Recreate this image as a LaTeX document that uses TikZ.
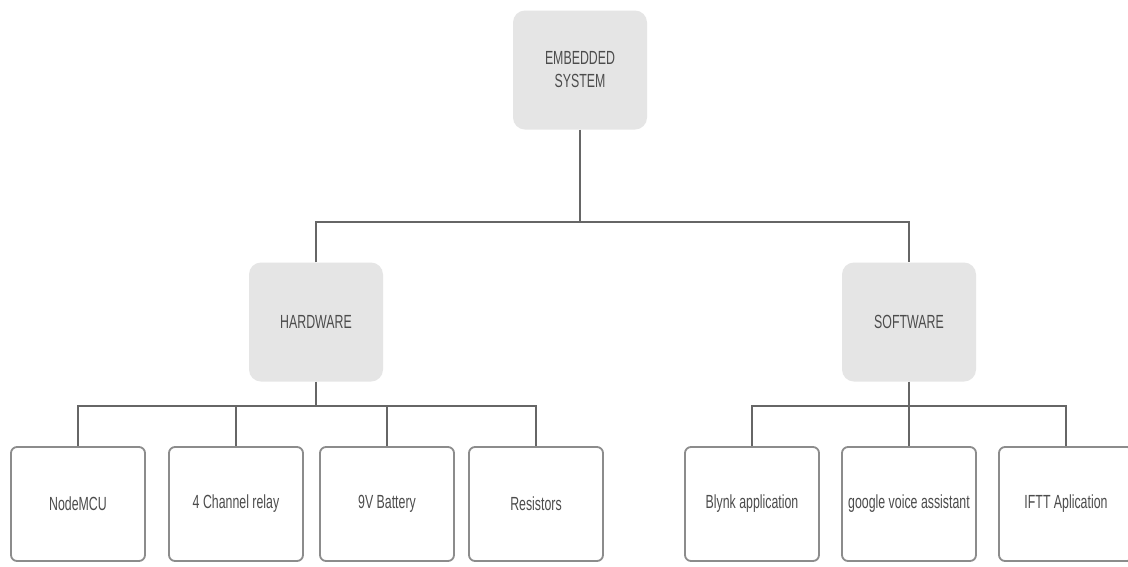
\documentclass[tikz,border=0pt]{standalone}
\usepackage{fontspec}
\setmainfont{Liberation Sans}[FakeStretch=0.65]
\begin{document}
\begin{tikzpicture}[x=1pt,y=-1pt,
  every node/.style={font=\fontsize{19}{23}\selectfont, text=black!70},
  topbox/.style={fill=black!10, draw=none, rounded corners=12pt,
    minimum width=134pt, minimum height=119pt, align=center, inner sep=0pt},
  leafbox/.style={fill=white, draw=black!45, line width=1.8pt, rounded corners=6pt,
    minimum width=134pt, minimum height=114pt, align=center, inner sep=0pt},
  wire/.style={draw=black!60, line width=1.4pt}]
\path[use as bounding box] (0,0) rectangle (1128,566);
\clip (0,0) rectangle (1128,566);
\fill[white] (0,0) rectangle (1128,566);

\node[topbox] (emb) at (580,70) {EMBEDDED\\SYSTEM};
\node[topbox] (hw) at (316,322) {HARDWARE};
\node[topbox] (sw) at (909,322) {SOFTWARE};

\node[leafbox] (n1) at (78,504) {NodeMCU};
\node[leafbox] (n2) at (236,504) {4 Channel relay};
\node[leafbox] (n3) at (387,504) {9V Battery};
\node[leafbox] (n4) at (536,504) {Resistors};
\node[leafbox] (s1) at (752,504) {Blynk application};
\node[leafbox] (s2) at (909,504) {google voice assistant};
\node[leafbox] (s3) at (1066,504) {IFTT Aplication};

\coordinate (bus) at (580,222);
\coordinate (hbus) at (316,406);
\coordinate (sbus) at (909,406);

\draw[wire] (emb.south) -- (bus);
\draw[wire] (hw.north) |- (bus) -| (sw.north);
\draw[wire] (hw.south) -- (hbus);
\foreach \c in {n1,n2,n3,n4} \draw[wire] (hbus) -| (\c.north);
\draw[wire] (sw.south) -- (sbus);
\foreach \c in {s1,s2,s3} \draw[wire] (sbus) -| (\c.north);
\end{tikzpicture}
\end{document}
